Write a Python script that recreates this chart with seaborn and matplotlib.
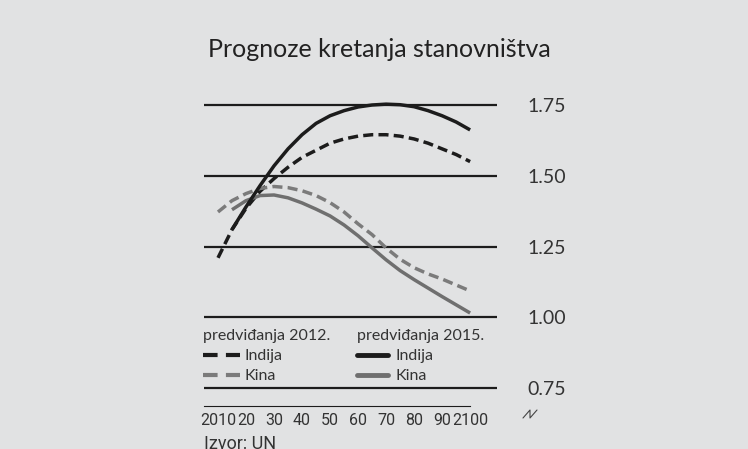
import matplotlib
matplotlib.use("Agg")
import matplotlib.pyplot as plt
from matplotlib.lines import Line2D
import pandas as pd
import seaborn as sns

# projekcije stanovnistva (mlrd.), ocitano s grafikona
godine_2012 = [2010, 2015, 2020, 2025, 2030, 2035, 2040, 2045, 2050, 2055,
               2060, 2065, 2070, 2075, 2080, 2085, 2090, 2095, 2100]
indija_2012 = [1.21, 1.31, 1.385, 1.445, 1.49, 1.53, 1.565, 1.59, 1.615, 1.63,
               1.64, 1.645, 1.645, 1.64, 1.63, 1.615, 1.595, 1.575, 1.55]
kina_2012 = [1.372, 1.412, 1.437, 1.455, 1.462, 1.458, 1.447, 1.43, 1.405, 1.372,
             1.33, 1.292, 1.245, 1.205, 1.175, 1.153, 1.135, 1.114, 1.093]

godine_2015 = [2015, 2020, 2025, 2030, 2035, 2040, 2045, 2050, 2055,
               2060, 2065, 2070, 2075, 2080, 2085, 2090, 2095, 2100]
indija_2015 = [1.31, 1.39, 1.465, 1.535, 1.595, 1.645, 1.685, 1.712, 1.73,
               1.743, 1.75, 1.753, 1.751, 1.744, 1.73, 1.712, 1.69, 1.662]
kina_2015 = [1.38, 1.412, 1.43, 1.432, 1.422, 1.404, 1.382, 1.358, 1.326,
             1.288, 1.245, 1.203, 1.165, 1.133, 1.103, 1.073, 1.044, 1.015]

y_ticks = [0.75, 1.00, 1.25, 1.50, 1.75]
x_ticks = [2010, 2020, 2030, 2040, 2050, 2060, 2070, 2080, 2090, 2100]
x_labels = ["2010", "20", "30", "40", "50", "60", "70", "80", "90", "2100"]

BG = "#e1e2e3"
BLACK = "#1c1c1c"
GRAY_DASH = "#7b7b7b"
GRAY_SOLID = "#6f6f6f"
TXT = "#333333"
NARROW = ["Roboto", "DejaVu Sans"]
W, H = 748, 449


def px(x, y):
    return x / W, 1 - y / H


def long_df(years, values, country, forecast):
    return pd.DataFrame({"godina": years, "vrijednost": values,
                         "zemlja": country, "prognoza": forecast})


df = pd.concat([
    long_df(godine_2012, indija_2012, "Indija", "2012"),
    long_df(godine_2012, kina_2012, "Kina", "2012"),
    long_df(godine_2015, indija_2015, "Indija", "2015"),
    long_df(godine_2015, kina_2015, "Kina", "2015"),
], ignore_index=True)

sns.set_theme(style="white")
plt.rcParams["font.family"] = ["Lato", "DejaVu Sans"]

fig = plt.figure(figsize=(W / 100, H / 100), dpi=100, facecolor=BG)
ax = fig.add_axes([204 / W, 43 / H, 293 / W, 311 / H], facecolor=BG)

dash = (0, (2.9, 1.5))
styles = {
    ("Indija", "2012"): dict(color=BLACK, linestyle=dash),
    ("Kina", "2012"): dict(color=GRAY_DASH, linestyle=dash),
    ("Kina", "2015"): dict(color=GRAY_SOLID, linestyle="-"),
    ("Indija", "2015"): dict(color=BLACK, linestyle="-"),
}
for (zemlja, prognoza), st in styles.items():
    sub = df[(df["zemlja"] == zemlja) & (df["prognoza"] == prognoza)]
    sns.lineplot(data=sub, x="godina", y="vrijednost", ax=ax, linewidth=2.5,
                 color=st["color"], linestyle=st["linestyle"], zorder=3,
                 solid_capstyle="butt", dash_capstyle="butt")

ax.set_xlim(2005, 2109.6)
ax.set_ylim(0.75 - 18 / 283, 1.75 + 10 / 283)
ax.set_xlabel("")
ax.set_ylabel("")

for s in ["left", "top", "right"]:
    ax.spines[s].set_visible(False)
ax.spines["bottom"].set_bounds(2005, 2100)
ax.spines["bottom"].set_linewidth(0.8)
ax.spines["bottom"].set_color(BLACK)

ax.set_yticks(y_ticks)
ax.set_yticklabels([f"{v:.2f}" for v in y_ticks])
ax.yaxis.tick_right()
ax.tick_params(axis="y", length=0, pad=22, labelsize=14, labelcolor=TXT)
ax.yaxis.grid(True, color=BLACK, linewidth=1.6)
ax.xaxis.grid(False)

ax.set_xticks(x_ticks)
ax.set_xticklabels(x_labels, family=NARROW)
ax.tick_params(axis="x", direction="in", length=4.5, width=0.8, color=BLACK,
               pad=5, labelsize=11.5, labelcolor=TXT)

# legenda u dva stupca
leg_kw = dict(frameon=False, loc="upper left", fontsize=11.5, title_fontsize=11.5,
              labelspacing=0.38, borderpad=0, borderaxespad=0, alignment="left")
h12 = [Line2D([], [], color=BLACK, lw=3, linestyle=(0, (3.5, 2.0))),
       Line2D([], [], color=GRAY_DASH, lw=3, linestyle=(0, (3.5, 2.0)))]
h15 = [Line2D([], [], color=BLACK, lw=3.5),
       Line2D([], [], color=GRAY_SOLID, lw=3.5)]
leg1 = ax.legend(h12, ["Indija", "Kina"], title="predviđanja 2012.",
                 bbox_to_anchor=px(203, 329), bbox_transform=fig.transFigure,
                 handlelength=2.3, handletextpad=0.3, **leg_kw)
leg1.get_title().set_color(TXT)
for t in leg1.get_texts():
    t.set_color(TXT)
ax.add_artist(leg1)
leg2 = ax.legend(h15, ["Indija", "Kina"], title="predviđanja 2015.",
                 bbox_to_anchor=px(357, 329), bbox_transform=fig.transFigure,
                 handlelength=1.95, handletextpad=0.45, **leg_kw)
leg2.get_title().set_color(TXT)
for t in leg2.get_texts():
    t.set_color(TXT)

fig.text(*px(208, 57), "Prognoze kretanja stanovništva", fontsize=18,
         color="#222222", va="baseline", ha="left")
fig.text(*px(204, 449), "Izvor: UN", fontsize=13, color=TXT,
         va="baseline", ha="left", family=NARROW)

# znak prekida osi
zx = [523, 530, 530, 537]
zy = [418, 410, 418, 410]
fig.add_artist(Line2D([x / W for x in zx], [1 - y / H for y in zy],
                      color="#444444", lw=0.8, transform=fig.transFigure))

fig.savefig("out.png", dpi=100, facecolor=BG)
